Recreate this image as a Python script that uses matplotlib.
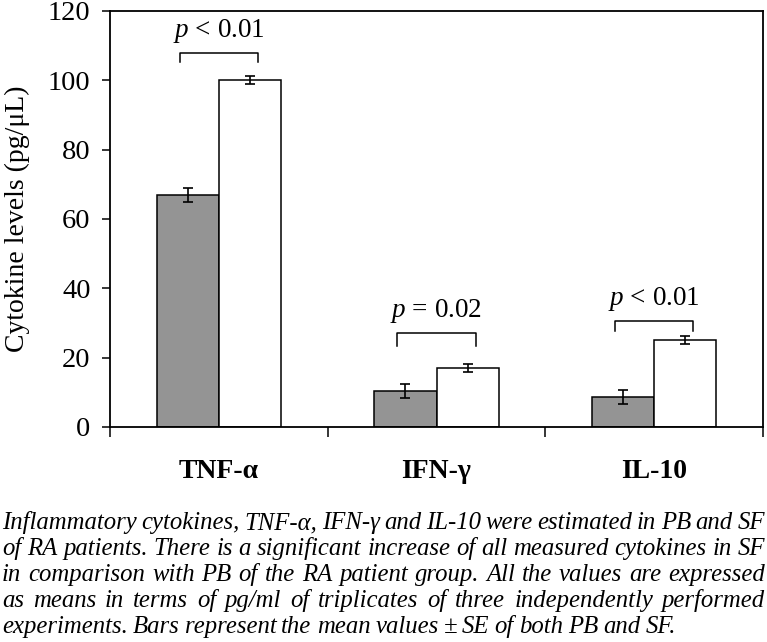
import matplotlib
matplotlib.use("Agg")
import matplotlib.pyplot as plt
import numpy as np

plt.rcParams['font.family'] = ['Liberation Serif', 'DejaVu Serif']
plt.rcParams['mathtext.fontset'] = 'custom'
plt.rcParams['mathtext.it'] = 'Liberation Serif:italic'
plt.rcParams['mathtext.rm'] = 'Liberation Serif'

# data
cytokines = ['TNF-α', 'IFN-γ', 'IL-10']
pb_mean = [67, 10.5, 8.7]
pb_se = [2.0, 2.0, 2.0]
sf_mean = [100, 17, 25]
sf_se = [1.2, 1.2, 1.2]
p_labels = [r'$\it{p}$ < 0.01', r'$\it{p}$ = 0.02', r'$\it{p}$ < 0.01']
bracket_y = [108, 27.1, 30.6]
bracket_drop = [2.8, 3.6, 2.9]

caption = ["Inflammatory cytokines, TNF-α, IFN-γ and IL-10 were estimated in PB and SF",
           "of RA patients. There is a significant increase of all measured cytokines in SF",
           "in comparison with PB of the RA patient group. All the values are expressed",
           "as means in terms of pg/ml of triplicates of three independently performed",
           "experiments. Bars represent the mean values ± SE of both PB and SF."]

W, H = 767, 642
fig = plt.figure(figsize=(W/100, H/100), dpi=100)
ax = fig.add_axes([110/W, 1-427/H, (763-110)/W, (427-11)/H])

x = np.arange(len(cytokines))
w = 0.286
ax.bar(x - w/2, pb_mean, w, color='#949494', edgecolor='black', linewidth=1.1)
ax.bar(x + w/2, sf_mean, w, color='white', edgecolor='black', linewidth=1.1)
ax.errorbar(x - w/2, pb_mean, yerr=pb_se, fmt='none', ecolor='black', elinewidth=1.2, capsize=3.5, capthick=1.2)
ax.errorbar(x + w/2, sf_mean, yerr=sf_se, fmt='none', ecolor='black', elinewidth=1.2, capsize=3.5, capthick=1.2)

# significance brackets
for i in range(len(cytokines)):
    y = bracket_y[i]
    ax.plot([i-0.18, i-0.18, i+0.18, i+0.18], [y-bracket_drop[i], y, y, y-bracket_drop[i]], color='black', lw=1.1)
    ax.text(i, y + 2.3, p_labels[i], ha='center', va='bottom', fontsize=19.5)

ax.set_xlim(-0.5, 2.5)
ax.set_ylim(0, 120)
ax.set_yticks(range(0, 121, 20))
ax.set_xticks([-0.5, 0.5, 1.5, 2.5])
ax.set_xticklabels([])
ax.set_xticks(x, minor=True)
ax.set_xticklabels(cytokines, minor=True, fontweight='bold', fontsize=20)
ax.tick_params(axis='x', which='major', direction='out', length=7, width=1.1)
ax.tick_params(axis='x', which='minor', length=0, pad=23)
ax.tick_params(axis='y', direction='out', length=6, width=1.1, labelsize=20.5, pad=8)
for s in ax.spines.values():
    s.set_linewidth(1.3)
ax.set_ylabel('Cytokine levels (pg/μL)', fontsize=20)
ax.yaxis.set_label_coords(-0.122, 0.5)

# justified caption
fig.canvas.draw()
renderer = fig.canvas.get_renderer()
x0, x1 = 2, 765
for k, line in enumerate(caption):
    yy = 1 - (523 + 26*k)/H
    words = line.split(' ')
    texts = [fig.text(0, yy, wd, fontsize=17.8, style='italic', va='center', ha='left') for wd in words]
    widths = [t.get_window_extent(renderer).width for t in texts]
    if k < len(caption) - 1:
        gap = (x1 - x0 - sum(widths)) / (len(words) - 1)
    else:
        gap = 5.0
    pos = x0
    for t, wd in zip(texts, widths):
        t.set_x(pos / W)
        pos += wd + gap

fig.savefig('out.png', dpi=100)
